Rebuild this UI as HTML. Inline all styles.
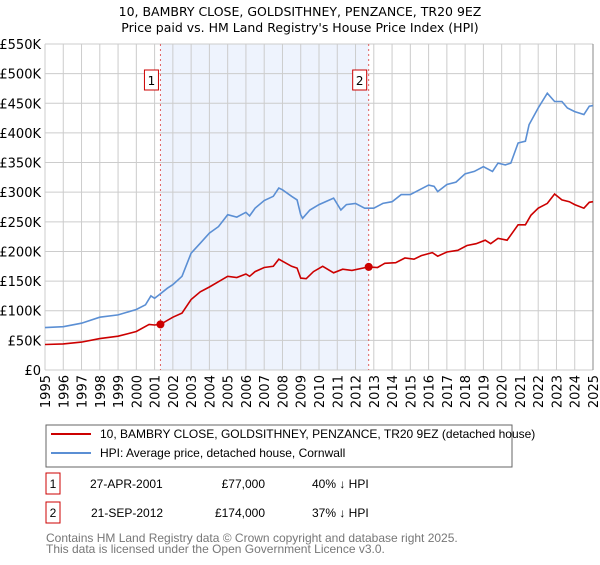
<!DOCTYPE html>
<html><head><meta charset="utf-8"><style>
body{margin:0;background:#fff;font-family:"Liberation Sans","DejaVu Sans",sans-serif;}
svg text{font-family:"DejaVu Sans","Liberation Sans",sans-serif;}
svg text.ls{font-family:"Liberation Sans","DejaVu Sans",sans-serif;}
</style></head><body>
<svg id="chart" width="600" height="560" viewBox="0 0 600 560" xmlns="http://www.w3.org/2000/svg">
<text x="300" y="16" text-anchor="middle" font-size="12.5">10, BAMBRY CLOSE, GOLDSITHNEY, PENZANCE, TR20 9EZ</text>
<text x="300" y="32" text-anchor="middle" font-size="12.5">Price paid vs. HM Land Registry's House Price Index (HPI)</text>
<g id="plot"></g>
<g>
<rect x="46" y="425" width="466" height="42" fill="#fff" stroke="#666"/>
<line x1="51" y1="434" x2="91" y2="434" stroke="#cc0000" stroke-width="2"/>
<text class="ls" x="100" y="438" font-size="12">10, BAMBRY CLOSE, GOLDSITHNEY, PENZANCE, TR20 9EZ (detached house)</text>
<line x1="51" y1="453" x2="91" y2="453" stroke="#5b8fd4" stroke-width="2"/>
<text class="ls" x="100" y="457" font-size="12">HPI: Average price, detached house, Cornwall</text>
</g>
<g font-size="12">
<rect x="46" y="473" width="14" height="21" fill="#fff" stroke="#cc0000"/>
<text class="ls" x="53" y="488" text-anchor="middle">1</text>
<text class="ls" x="90" y="488">27-APR-2001</text>
<text class="ls" x="265" y="488" text-anchor="end">£77,000</text>
<text class="ls" x="312" y="488">40% ↓ HPI</text>
</g>
<g font-size="12">
<rect x="46" y="502" width="14" height="21" fill="#fff" stroke="#cc0000"/>
<text class="ls" x="53" y="517" text-anchor="middle">2</text>
<text class="ls" x="91" y="517">21-SEP-2012</text>
<text class="ls" x="265" y="517" text-anchor="end">£174,000</text>
<text class="ls" x="312" y="517">37% ↓ HPI</text>
</g>
<text class="ls" x="46" y="542" font-size="12" fill="#777">Contains HM Land Registry data © Crown copyright and database right 2025.</text>
<text class="ls" x="46" y="553" font-size="12" fill="#777">This data is licensed under the Open Government Licence v3.0.</text>
</svg>
<script>
const yTicks=[0,50000,100000,150000,200000,250000,300000,350000,400000,450000,500000,550000];
const yTickLabels=["£0","£50K","£100K","£150K","£200K","£250K","£300K","£350K","£400K","£450K","£500K","£550K"];
const xYears=[1995,1996,1997,1998,1999,2000,2001,2002,2003,2004,2005,2006,2007,2008,2009,2010,2011,2012,2013,2014,2015,2016,2017,2018,2019,2020,2021,2022,2023,2024,2025];
const hpiDates=[1995,1996,1997,1998,1999,2000,2000.5,2000.8,2001,2001.25,2001.7,2002,2002.5,2003,2003.5,2004,2004.5,2005,2005.5,2006,2006.2,2006.5,2007,2007.5,2007.8,2008,2008.5,2008.8,2009,2009.1,2009.5,2010,2010.8,2011.2,2011.5,2012,2012.5,2013,2013.5,2014,2014.5,2015,2015.5,2016,2016.3,2016.5,2017,2017.5,2018,2018.5,2019,2019.5,2019.8,2020.2,2020.5,2020.9,2021.3,2021.5,2022,2022.5,2022.9,2023.3,2023.6,2024,2024.5,2024.8,2025];
const hpiValues=[71500,73000,79000,89000,93000,102000,110000,125000,121000,127000,138000,144000,158000,197000,214000,231000,242000,262000,258000,266000,260000,273000,286000,293000,307000,304000,293000,287000,262000,256000,270000,279000,290000,270000,279000,281000,273000,273000,281000,284000,296000,296000,304000,312000,310000,301000,313000,317000,331000,335000,343000,335000,349000,346000,349000,383000,386000,414000,442000,467000,453000,453000,442000,436000,431000,445000,446000];
const priceDates=[1995,1996,1997,1998,1999,2000,2000.7,2001,2001.32,2002,2002.5,2003,2003.5,2004,2004.5,2005,2005.5,2006,2006.2,2006.5,2007,2007.5,2007.8,2008.5,2008.8,2009,2009.3,2009.7,2010.2,2010.8,2011.3,2011.8,2012.72,2013.2,2013.6,2014.2,2014.7,2015.2,2015.6,2016.2,2016.5,2017,2017.6,2018.1,2018.6,2019.1,2019.4,2019.8,2020.3,2020.9,2021.3,2021.6,2022,2022.5,2022.9,2023.3,2023.7,2024,2024.5,2024.8,2025];
const priceValues=[43000,44000,47000,53000,57000,65000,77000,76000,77000,89000,96000,119000,132000,140000,149000,158000,156000,162000,158000,166000,173000,175000,187000,175000,172000,155000,154000,166000,175000,164000,170000,168000,174000,173000,180000,181000,189000,187000,193000,198000,192000,199000,202000,210000,213000,219000,213000,222000,219000,245000,245000,261000,273000,281000,297000,287000,284000,279000,273000,283000,284000];
const saleDates=[2001.32,2012.72];
const saleValues=[77000,174000];
const saleLabels=["1","2"];

const L=45,R=593,T=44,B=370;
const x=v=>L+(v-1995)/(2025-1995)*(R-L);
const y=v=>B-v/550000*(B-T);
const NS="http://www.w3.org/2000/svg";
const g=document.getElementById('plot');
function mk(tag,attrs){const e=document.createElementNS(NS,tag);for(const k in attrs)e.setAttribute(k,attrs[k]);g.appendChild(e);return e;}

let shade=mk('rect',{x:x(saleDates[0]),y:T,width:x(saleDates[1])-x(saleDates[0]),height:B-T,fill:'#eef3fd'});



yTicks.forEach((t,i)=>{
  let l=mk('line',{x1:L,x2:R,y1:y(t),y2:y(t),stroke:'#ccc','stroke-width':1});
  
  
  let tx=mk('text',{x:L-4,y:y(t)+5,'text-anchor':'end','font-size':13});
  
  
  tx.textContent=yTickLabels[i];
});
xYears.forEach(yr=>{
  let l=mk('line',{x1:x(yr),x2:x(yr),y1:T,y2:B,stroke:'#ccc','stroke-width':1});
  
  
  const px=x(yr)+5, py=B+5;
  let tx=mk('text',{x:px,y:py,'text-anchor':'end','font-size':13,transform:'rotate(-90 '+px+' '+py+')'});
  
  
  tx.textContent=yr;
});
mk('line',{x1:R,x2:R,y1:T,y2:B,stroke:'#888','stroke-width':1});

saleDates.forEach((d,i)=>{
  let l=mk('line',{x1:x(d),x2:x(d),y1:T,y2:B,stroke:'#e06060','stroke-dasharray':'2,3','stroke-width':1});
  
  
  let bx=mk('rect',{x:x(d)-16,y:70,width:14,height:20,fill:'#fff',stroke:'#cc0000'});
  
  
  let t=mk('text',{x:x(d)-9,y:85,'text-anchor':'middle','font-size':12});
  
  
  t.textContent=saleLabels[i];
});

function path(ds,vs){return ds.map((d,i)=>(i?'L':'M')+x(d).toFixed(1)+','+y(vs[i]).toFixed(1)).join('');}
let hp=mk('path',{d:path(hpiDates,hpiValues),fill:'none',stroke:'#5b8fd4','stroke-width':1.6});


let pp=mk('path',{d:path(priceDates,priceValues),fill:'none',stroke:'#cc0000','stroke-width':1.6});


saleDates.forEach((d,i)=>{
  let c=mk('circle',{cx:x(d),cy:y(saleValues[i]),r:4,fill:'#cc0000'});
  
  
});
</script>
</body></html>
